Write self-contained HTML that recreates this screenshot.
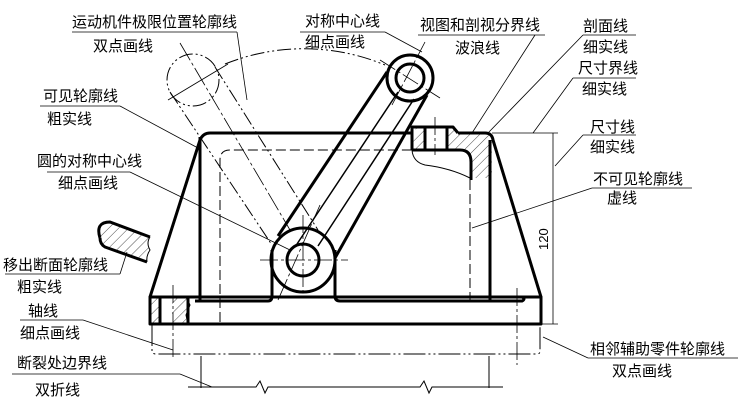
<!DOCTYPE html>
<html><head><meta charset="utf-8"><style>
html,body{margin:0;padding:0;background:#fff}
svg{display:block}
text{font-family:"Liberation Sans","Noto Sans CJK SC",sans-serif;font-size:15px;fill:#000}
</style></head><body>
<svg width="742" height="407" viewBox="0 0 742 407" xmlns="http://www.w3.org/2000/svg">
<defs>
<pattern id="h" width="7" height="7" patternUnits="userSpaceOnUse" patternTransform="rotate(45)">
<line x1="0" y1="0" x2="0" y2="7" stroke="#000" stroke-width="0.7"/></pattern>
</defs>
<g fill="none" stroke="#000">
<!-- phantom lever -->
<g stroke-width="1" stroke-dasharray="14,3,2,3,2,3">
<circle cx="193" cy="80" r="26"/>
<line x1="170" y1="92" x2="272" y2="245"/>
<line x1="215" y1="67" x2="318" y2="230"/>
<path d="M225,64 A211,211 0 0,1 385,65"/>
</g>
<line x1="180" y1="43" x2="290" y2="230" stroke-width="0.8" stroke-dasharray="20,3,3,3"/>
<line x1="168" y1="100" x2="228" y2="64" stroke-width="0.8"/>

<!-- hatched areas -->
<rect x="150" y="297" width="10" height="27" fill="url(#h)" stroke="none"/>
<path d="M172,297 L186,297 L190,305 L186,315 L188,324 L172,324Z" fill="url(#h)" stroke="none"/>
<path d="M416,127 L425,127 L425,150 L412,150Z" fill="url(#h)" stroke="none"/>
<path d="M447,127 L453,127 L458,133 L487,133 Q492,135 492,145 L492,178 L471,178 L471,160 Q468,150 460,150 L447,150Z" fill="url(#h)" stroke="none"/>
<path d="M100,238 Q95,222 110,222 L150,237 L147,262 L105,247 Q100,244 100,238Z" fill="url(#h)" stroke="none"/>

<!-- main body thick -->
<g stroke-width="3" stroke-linejoin="round">
<path d="M150,297 L200,140 Q203,133 210,133 L412,133"/>
<path d="M458,133 L485,133 Q492,133 493,140 L541,297"/>
<path d="M412,150 L412,127 L453,127 L458,133"/>
<line x1="425" y1="127" x2="425" y2="150"/>
<line x1="447" y1="127" x2="447" y2="150"/>
<path d="M412,150 L460,150 Q471,150 471,162 L471,180"/>
<line x1="200" y1="137" x2="200" y2="301"/>
<line x1="490" y1="140" x2="490" y2="301"/>
<rect x="150" y="297" width="391" height="27"/>
<line x1="160" y1="297" x2="160" y2="324"/>
<line x1="188" y1="297" x2="188" y2="324"/>
<path d="M195,301 L268,301 Q272,301 272,296 L272,250"/>
<path d="M335,250 L335,296 Q335,301 340,301 L490,301"/>
<path d="M490,297 L522,297 Q526,299 522,301 L490,301"/>
<circle cx="303" cy="260" r="32"/>
<circle cx="303" cy="260" r="16"/>
<circle cx="410" cy="78" r="23"/>
<circle cx="410" cy="78" r="14"/>
<line x1="387" y1="72" x2="278" y2="236"/>
<line x1="427" y1="95" x2="335" y2="258"/>
<path d="M100,238 Q95,222 110,222 L150,237 M147,262 L105,247 Q100,244 100,238"/>
</g>
<g stroke-width="1.5">
<line x1="398" y1="92" x2="297" y2="244"/>
<line x1="414" y1="99" x2="318" y2="246"/>
</g>
<g stroke-width="1">
<path d="M186,297 L190,305 L186,315 L188,324"/>
<path d="M412,150 Q413,162 425,165 Q450,168 470,178"/>
<path d="M150,237 Q146,243 150,250 Q146,256 147,262"/>
</g>
<g stroke-width="1" stroke-dasharray="10,4">
<path d="M220,322 L220,160 Q220,150 230,150 L412,150"/>
<line x1="470" y1="180" x2="470" y2="300"/>
</g>
<g stroke-width="0.8" stroke-dasharray="18,3,3,3">
<line x1="260" y1="260" x2="348" y2="260"/>
<line x1="303" y1="215" x2="303" y2="296"/>
<line x1="380" y1="60" x2="440" y2="98"/>
<line x1="425" y1="42" x2="392" y2="105"/>
<line x1="173" y1="285" x2="173" y2="358"/>
<line x1="517" y1="288" x2="517" y2="365"/>
<line x1="435" y1="117" x2="435" y2="155"/>
<line x1="320" y1="205" x2="278" y2="300" />
</g>
<path d="M152,324 L152,351 Q152,354 156,354 L537,354 Q540,354 540,351 L540,324" stroke-width="1" stroke-dasharray="22,3,2,3,2,3"/>
<g stroke-width="1">
<line x1="201" y1="356" x2="201" y2="388"/>
<line x1="489" y1="356" x2="489" y2="388"/>
<path d="M188,387 L256,387 L260,381 L265,393 L268,387 L420,387 L424,381 L429,393 L432,387 L503,387"/>
</g>
<g stroke-width="0.8">
<line x1="492" y1="133" x2="558" y2="133"/>
<line x1="541" y1="324" x2="558" y2="324"/>
<line x1="553" y1="133" x2="553" y2="324"/>
</g>
<g stroke-width="0.8">
<line x1="72" y1="32" x2="237" y2="32"/><line x1="237" y1="32" x2="247" y2="100"/>
<line x1="300" y1="32" x2="385" y2="32"/><line x1="385" y1="32" x2="422" y2="52"/>
<line x1="418" y1="35" x2="545" y2="35"/><line x1="535" y1="35" x2="472" y2="133"/>
<line x1="583" y1="35" x2="636" y2="35"/><line x1="583" y1="35" x2="488" y2="133"/>
<line x1="573" y1="78" x2="636" y2="78"/><line x1="573" y1="78" x2="533" y2="133"/>
<line x1="583" y1="135" x2="636" y2="135"/><line x1="583" y1="135" x2="555" y2="166"/>
<line x1="40" y1="106" x2="120" y2="106"/><line x1="120" y1="106" x2="198" y2="148"/>
<line x1="47" y1="172" x2="130" y2="172"/><line x1="130" y1="172" x2="290" y2="250"/>
<line x1="592" y1="188" x2="692" y2="188"/><line x1="592" y1="188" x2="472" y2="228"/>
<line x1="5" y1="274" x2="120" y2="274"/><line x1="120" y1="274" x2="127" y2="252"/>
<line x1="20" y1="320" x2="83" y2="320"/><line x1="83" y1="320" x2="173" y2="350"/>
<line x1="12" y1="374" x2="180" y2="374"/><line x1="180" y1="374" x2="212" y2="387"/>
<line x1="588" y1="358" x2="738" y2="358"/><line x1="588" y1="358" x2="543" y2="337"/>
</g>
</g>
<text x="548" y="250" transform="rotate(-90 548 250)" style="font-size:13px">120</text>
<text x="72" y="27">运动机件极限位置轮廓线</text>
<text x="93" y="51">双点画线</text>
<text x="305" y="26">对称中心线</text>
<text x="305" y="47">细点画线</text>
<text x="420" y="30">视图和剖视分界线</text>
<text x="455" y="53">波浪线</text>
<text x="583" y="31">剖面线</text>
<text x="583" y="52">细实线</text>
<text x="578" y="73">尺寸界线</text>
<text x="582" y="94">细实线</text>
<text x="43" y="101">可见轮廓线</text>
<text x="47" y="124">粗实线</text>
<text x="590" y="132">尺寸线</text>
<text x="590" y="152">细实线</text>
<text x="37" y="166">圆的对称中心线</text>
<text x="58" y="188">细点画线</text>
<text x="593" y="184">不可见轮廓线</text>
<text x="607" y="203">虚线</text>
<text x="3" y="270">移出断面轮廓线</text>
<text x="17" y="292">粗实线</text>
<text x="28" y="316">轴线</text>
<text x="20" y="338">细点画线</text>
<text x="17" y="368">断裂处边界线</text>
<text x="35" y="395">双折线</text>
<text x="590" y="354">相邻辅助零件轮廓线</text>
<text x="612" y="376">双点画线</text>
</svg>
</body></html>
